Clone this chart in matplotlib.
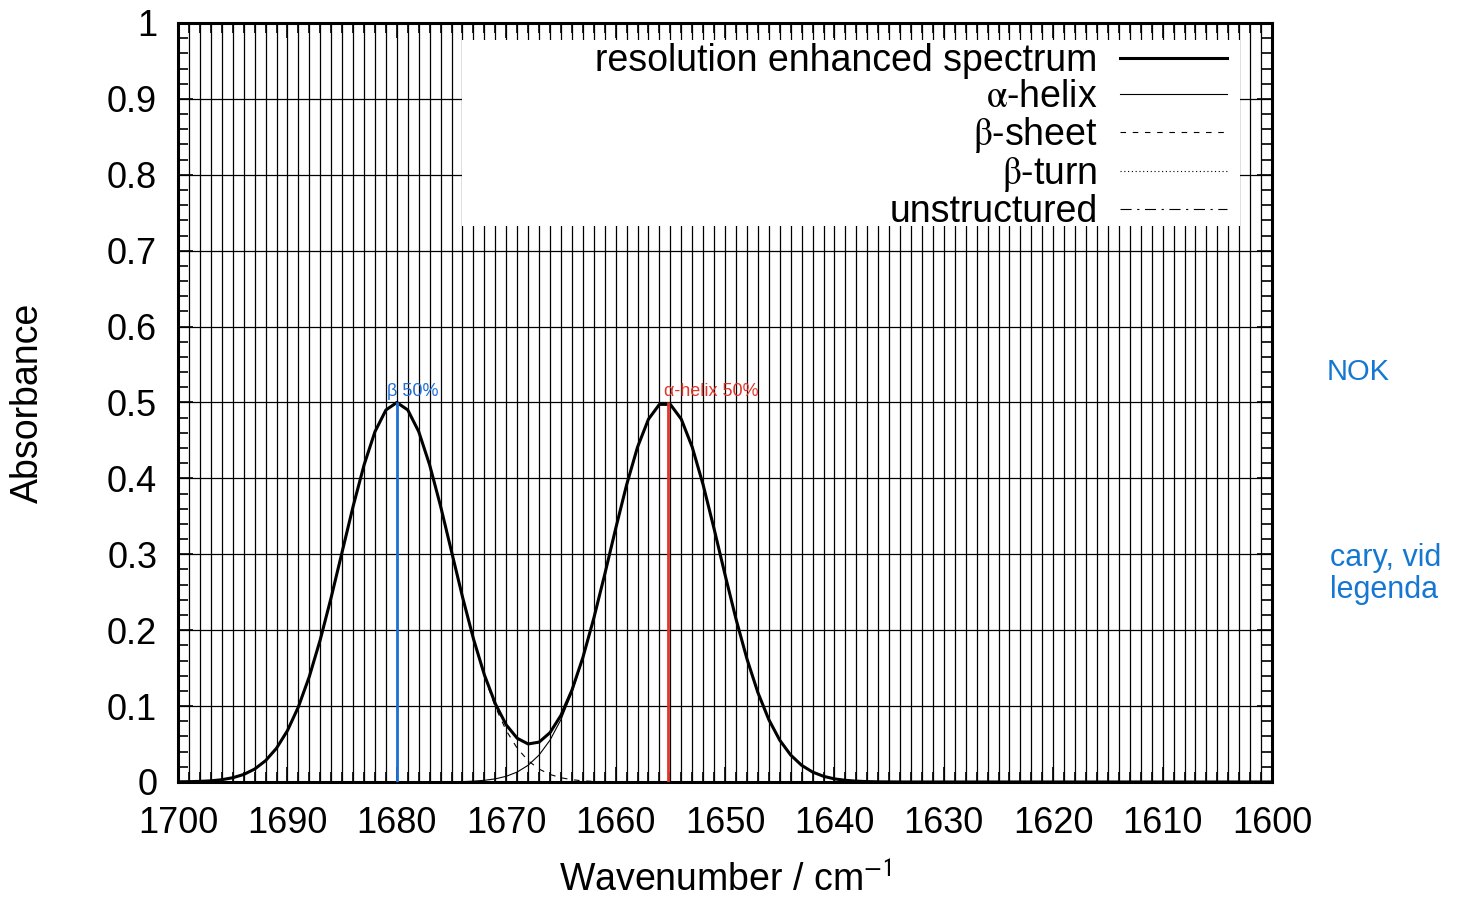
import numpy as np
import matplotlib.pyplot as plt
from matplotlib.patches import Rectangle
from matplotlib.ticker import MultipleLocator, FormatStrFormatter

plt.rcParams["font.family"] = ["Liberation Sans", "DejaVu Sans"]
plt.rcParams["mathtext.fontset"] = "stix"

# wavenumber grid, 1700 -> 1600 cm-1, one point per cm-1
wavenumber = np.arange(1700, 1599, -1)

# beta-sheet band (peak near 1680 cm-1)
beta_sheet = [
    0.0002, 0.0004, 0.0008, 0.0015, 0.0030, 0.0056, 0.0099, 0.0170, 0.0281, 0.0445,
    0.0677, 0.0990, 0.1390, 0.1876, 0.2434, 0.3033, 0.3631, 0.4176, 0.4616, 0.4901,
    0.5000,
    0.4901, 0.4616, 0.4176, 0.3631, 0.3033, 0.2434, 0.1876, 0.1390, 0.0990, 0.0677,
    0.0445, 0.0281, 0.0170, 0.0099, 0.0056, 0.0030, 0.0015, 0.0008, 0.0004, 0.0002,
] + [0.0] * 60

# alpha-helix band (peak near 1655.5 cm-1)
alpha_helix = [0.0] * 24 + [
    0.0001, 0.0002, 0.0005, 0.0011, 0.0022, 0.0041, 0.0075, 0.0131, 0.0220, 0.0355,
    0.0551, 0.0822, 0.1179, 0.1623, 0.2148, 0.2730, 0.3335, 0.3914, 0.4412, 0.4780,
    0.4975, 0.4975,
    0.4780, 0.4412, 0.3914, 0.3335, 0.2730, 0.2148, 0.1623, 0.1179, 0.0822, 0.0551,
    0.0355, 0.0220, 0.0131, 0.0075, 0.0041, 0.0022, 0.0011, 0.0005, 0.0002, 0.0001,
] + [0.0] * 35

beta_turn = [0.0] * 101
unstructured = [0.0] * 101

spectrum = np.array(beta_sheet) + np.array(alpha_helix)

# hand-drawn markers on the original figure
marks = [(1680.0, "#1f6fd8", "β 50%", 1680.9), (1655.2, "#e2362a", "α-helix 50%", 1655.6)]

fig = plt.figure(figsize=(14.68, 8.98), dpi=100)
ax = fig.add_axes([0.1213, 0.1292, 0.7452, 0.8452])

ax.plot(wavenumber, spectrum, color="black", lw=2.2, label="resolution enhanced spectrum", zorder=4)
ax.plot(wavenumber, alpha_helix, color="black", lw=0.8, label=r"$\mathrm{\alpha}$-helix", zorder=3)
ax.plot(wavenumber, beta_sheet, color="black", lw=0.8, ls=(0, (5, 6)), label=r"$\mathrm{\beta}$-sheet", zorder=3)
ax.plot(wavenumber, beta_turn, color="black", lw=0.8, ls=(0, (1, 2.4)), label=r"$\mathrm{\beta}$-turn", zorder=3)
ax.plot(wavenumber, unstructured, color="black", lw=0.8, ls=(0, (10, 5, 2, 5)), label="unstructured", zorder=3)

for x, c, txt, tx in marks:
    ax.vlines(x, 0, 0.5, color=c, lw=2, zorder=5)
    ax.text(tx, 0.503, txt, color=c, fontsize=13, ha="left", va="bottom", zorder=5)

ax.set_xlim(1700, 1600)
ax.set_ylim(0, 1)
ax.xaxis.set_major_locator(MultipleLocator(10))
ax.xaxis.set_minor_locator(MultipleLocator(1))
ax.yaxis.set_major_locator(MultipleLocator(0.1))
ax.yaxis.set_minor_locator(MultipleLocator(0.02))
ax.yaxis.set_major_formatter(FormatStrFormatter("%g"))

ax.tick_params(which="both", direction="in", top=True, right=True, labelsize=26, width=1.2)
ax.tick_params(axis="y", pad=15)
ax.tick_params(axis="x", pad=17)
ax.tick_params(which="major", length=11)
ax.tick_params(which="minor", length=7)
ax.grid(True, which="major", color="black", lw=0.9)
ax.grid(True, which="minor", axis="x", color="black", lw=0.9)
for s in ax.spines.values():
    s.set_linewidth(2.2)

ax.set_xlabel(r"Wavenumber / cm$^{\mathsf{-1}}$", fontsize=27, labelpad=16)
ax.set_ylabel("Absorbance", fontsize=27, labelpad=44)

# white key box like gnuplot, wider than the text it holds
ax.add_patch(Rectangle((0.2596, 0.7325), 0.7111, 0.2451, transform=ax.transAxes,
                       facecolor="white", edgecolor="none", zorder=2.5))
leg = ax.legend(loc="upper right", bbox_to_anchor=(0.9589, 0.9735), fontsize=27, markerfirst=False,
                frameon=False, handlelength=2.85, handletextpad=0.6, labelspacing=0.0,
                borderpad=0, borderaxespad=0)
leg.set_zorder(6)

fig.text(1327 / 1468, 1 - 372 / 898, "NOK", color="#1677d2", fontsize=21, va="center")
fig.text(1330 / 1468, 1 - 574 / 898, "cary, vid\nlegenda", color="#1677d2", fontsize=22,
         va="center", linespacing=1.05)

fig.savefig("out.png", dpi=100)
